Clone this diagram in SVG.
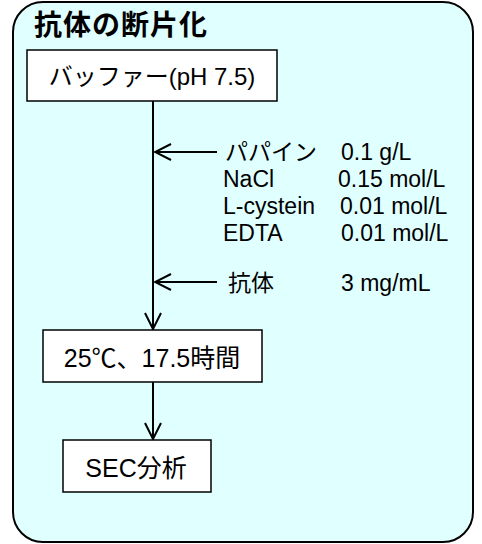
<svg xmlns="http://www.w3.org/2000/svg" width="482" height="544" viewBox="0 0 482 544">
<style>
.t{font-family:"Liberation Sans","Noto Sans CJK JP",sans-serif;fill:#000}
.lb{font-size:23px}
.bx{font-size:24px}
.box{fill:#fff;stroke:#000;stroke-width:1.5}
.ln{stroke:#000;stroke-width:2;fill:none}
</style>
<defs>
<marker id="ah" viewBox="0 0 20 20" refX="18" refY="10" markerWidth="20" markerHeight="20" markerUnits="userSpaceOnUse" orient="auto">
<path d="M2,2 L18,10 L2,18" fill="none" stroke="#000" stroke-width="2"/>
</marker>
</defs>
<g id="frame">
<rect x="13" y="2" width="460" height="540" rx="30" ry="30" fill="#e0ffff" stroke="#000" stroke-width="2"/>
<text class="t" x="34" y="35" font-size="28" font-weight="bold" letter-spacing="1">抗体の断片化</text>
</g>
<g id="connectors">
<line class="ln" x1="153" y1="101" x2="153" y2="329" marker-end="url(#ah)"/>
<line class="ln" x1="153" y1="382" x2="153" y2="439" marker-end="url(#ah)"/>
<line class="ln" x1="217" y1="152" x2="155" y2="152" marker-end="url(#ah)"/>
<line class="ln" x1="217" y1="282" x2="155" y2="282" marker-end="url(#ah)"/>
</g>
<g id="buffer">
<rect class="box" x="27" y="50" width="250" height="51"/>
<text class="t bx" x="152" y="85" text-anchor="middle">バッファー(pH 7.5)</text>
</g>
<g id="reagents">
<text class="t lb" x="225" y="160">パパイン</text>
<text class="t lb" x="341" y="160">0.1 g/L</text>
<text class="t lb" x="223" y="187">NaCl</text>
<text class="t lb" x="338" y="187">0.15 mol/L</text>
<text class="t lb" x="223" y="214">L-cystein</text>
<text class="t lb" x="340" y="214">0.01 mol/L</text>
<text class="t lb" x="223" y="241">EDTA</text>
<text class="t lb" x="341" y="241">0.01 mol/L</text>
</g>
<g id="antibody">
<text class="t lb" x="228" y="291">抗体</text>
<text class="t lb" x="341" y="291">3 mg/mL</text>
</g>
<g id="incubate">
<rect class="box" x="43" y="330" width="219" height="52"/>
<text class="t" x="152" y="367" font-size="25" text-anchor="middle">25℃、17.5時間</text>
</g>
<g id="sec">
<rect class="box" x="63" y="440" width="148" height="52"/>
<text class="t" x="136" y="477" font-size="25" text-anchor="middle">SEC分析</text>
</g>
</svg>
